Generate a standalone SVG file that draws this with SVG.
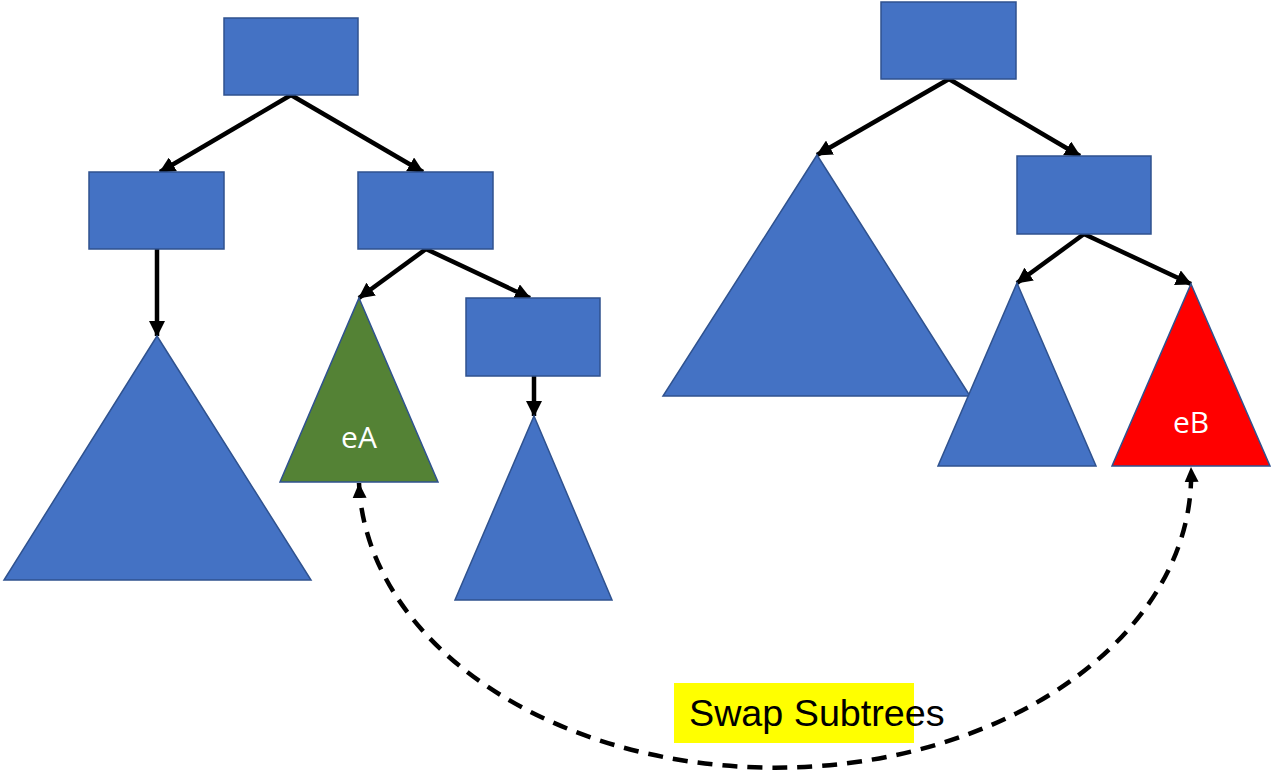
<svg xmlns="http://www.w3.org/2000/svg" width="1272" height="772" viewBox="0 0 1272 772">
<style>
.box{fill:#4472C4;stroke:#2F528F;stroke-width:1.5}
.tri{fill:#4472C4;stroke:#2F528F;stroke-width:1.5}
.green{fill:#548235;stroke:#2F528F;stroke-width:1.5}
.red{fill:#FF0000;stroke:#2F528F;stroke-width:1.5}
.edge{stroke:#000;stroke-width:4.5;fill:none;marker-end:url(#arr)}
.dash{stroke:#000;stroke-width:4.5;fill:none;stroke-dasharray:15 10;marker-start:url(#arrS);marker-end:url(#arr2)}
.lbl{font-family:"Open Sans","Noto Sans",sans-serif;font-size:30px;fill:#fff;text-anchor:middle}
.swap{font-family:"Liberation Sans",Arial,sans-serif;font-size:37.7px;fill:#000}
</style>
<defs>
<marker id="arr" markerUnits="userSpaceOnUse" markerWidth="16" markerHeight="16" refX="15" refY="8" orient="auto">
<path d="M0,0 L16,8 L0,16 z" fill="#000"/>
</marker>
<marker id="arr2" markerUnits="userSpaceOnUse" markerWidth="16" markerHeight="16" refX="15" refY="8" orient="auto">
<path d="M0,1 L15,8 L0,15 z" fill="#000"/>
</marker>
<marker id="arrS" markerUnits="userSpaceOnUse" markerWidth="16" markerHeight="16" refX="1" refY="8" orient="auto">
<path d="M16,1 L1,8 L16,15 z" fill="#000"/>
</marker>
</defs>
<g id="connectors">
<line class="edge" x1="291" y1="95" x2="160" y2="172"/>
<line class="edge" x1="291" y1="95" x2="423" y2="172"/>
<line class="edge" x1="157" y1="249" x2="157" y2="336"/>
<line class="edge" x1="426" y1="249" x2="359" y2="298"/>
<line class="edge" x1="426" y1="249" x2="530" y2="298"/>
<line class="edge" x1="534" y1="376" x2="534" y2="416"/>
<line class="edge" x1="949" y1="79" x2="817" y2="155"/>
<line class="edge" x1="949" y1="79" x2="1080" y2="156"/>
<line class="edge" x1="1084" y1="234" x2="1017" y2="283"/>
<line class="edge" x1="1084" y1="234" x2="1191" y2="284"/>
<path class="dash" d="M359,483 A415,292 0 0 0 1191,467"/>
</g>
<g id="L_root"><rect class="box" x="224" y="18" width="134" height="77"/></g>
<g id="L_left"><rect class="box" x="89" y="172" width="135" height="77"/></g>
<g id="L_right"><rect class="box" x="358" y="172" width="135" height="77"/></g>
<g id="L_bigtri"><polygon class="tri" points="157,336 311,580 4,580"/></g>
<g id="eA"><polygon class="green" points="359,298 438,482 280,482"/><text class="lbl" x="359" y="448">eA</text></g>
<g id="L_rr"><rect class="box" x="466" y="298" width="134" height="78"/></g>
<g id="L_smalltri"><polygon class="tri" points="534,416 612,600 455,600"/></g>
<g id="R_root"><rect class="box" x="881" y="2" width="135" height="77"/></g>
<g id="R_bigtri"><polygon class="tri" points="817,155 970,396 663,396"/></g>
<g id="R_right"><rect class="box" x="1017" y="156" width="134" height="78"/></g>
<g id="R_smalltri"><polygon class="tri" points="1017,283 1096,466 938,466"/></g>
<g id="eB"><polygon class="red" points="1191,284 1270,466 1112,466"/><text class="lbl" x="1191" y="433">eB</text></g>
<g id="swap_label"><rect x="674" y="683" width="240" height="60" fill="#FFFF00"/><text class="swap" x="689" y="726">Swap Subtrees</text></g>
</svg>
